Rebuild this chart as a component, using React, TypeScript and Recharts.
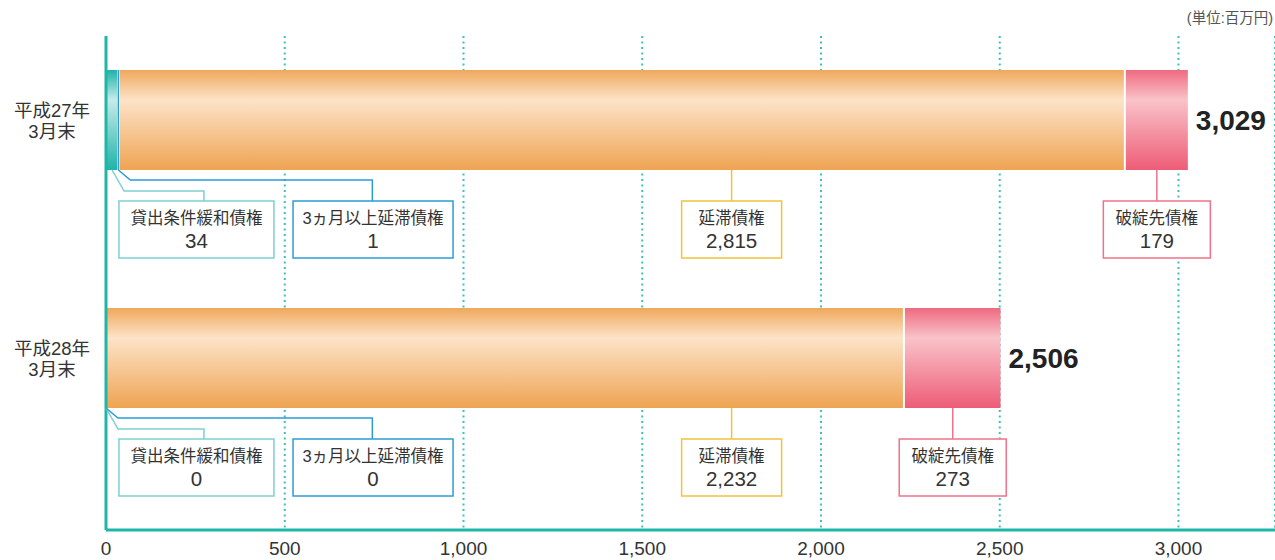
import { BarChart, Bar, XAxis, YAxis, CartesianGrid, LabelList } from 'recharts'

// 単位: 百万円
const periods = ['平成27年\n3月末', '平成28年\n3月末']
const relaxedLoans = [34, 0] // 貸出条件緩和債権
const overdue3m = [1, 0] // 3ヵ月以上延滞債権
const delinquent = [2815, 2232] // 延滞債権
const bankrupt = [179, 273] // 破綻先債権
const totals = [3029, 2506]
const xTicks = [0, 500, 1000, 1500, 2000, 2500, 3000]

const data = periods.map((period, i) => ({
  period,
  relaxed: relaxedLoans[i],
  overdue: overdue3m[i],
  delinquent: delinquent[i],
  bankrupt: bankrupt[i],
  total: totals[i],
}))

const TEAL = '#1fb5a7'
const FONT = '"Liberation Sans", "Noto Sans CJK JP", sans-serif'

// callout boxes under each bar; boxAt / lineAt are in 百万円 on the x scale
const callouts = [
  { key: 'relaxed', title: '貸出条件緩和債権', color: '#7dd0d2', boxAt: 253, lineAt: 274, boxWidth: 155, elbow: 21 },
  { key: 'overdue', title: '3ヵ月以上延滞債権', color: '#2b9cd8', boxAt: 747, lineAt: 745, boxWidth: 160, elbow: 10 },
  { key: 'delinquent', title: '延滞債権', color: '#f2c23e', boxAt: 1750, lineAt: 1750, boxWidth: 100 },
  { key: 'bankrupt', title: '破綻先債権', color: '#f0718a', boxWidth: 107 },
]

const fmt = (v: number) => v.toLocaleString('en-US')

const Segment = (props: any) => {
  const { x, y, width, height, fill } = props
  if (!width || width <= 0) return null
  return <rect x={x + 1} y={y} width={Math.max(width - 2, 0.5)} height={height} fill={fill} />
}

const ThinSegment = (props: any) => {
  const { x, y, width, height, fill } = props
  if (!width || width <= 0) return null
  return <rect x={x + width / 2 - 0.7} y={y} width={1.4} height={height} fill={fill} />
}

const PeriodTick = ({ x, y, payload }: any) => {
  const lines = String(payload.value).split('\n')
  return (
    <text x={x - 46} y={y} textAnchor="middle" fontSize={18.5} fill="#333">
      {lines.map((l, i) => (
        <tspan key={i} x={x - 46} dy={i === 0 ? -3 : 21}>
          {l}
        </tspan>
      ))}
    </text>
  )
}

const AmountTick = ({ x, payload }: any) => (
  <text x={x} y={555} textAnchor="middle" fontSize={19} fill="#333">
    {fmt(payload.value)}
  </text>
)

// drawn from the 延滞債権 segment: its width gives the px-per-unit of the x scale
const Callouts = (props: any) => {
  const vb = props.viewBox && props.viewBox.width != null ? props.viewBox : props
  const { x, y, width, height } = vb
  let i = typeof props.index === 'number' ? props.index : periods.indexOf(props.value)
  if (i < 0) i = periods.indexOf(props.value)
  const row = data[i]
  if (!row || !width) return null
  const k = width / row.delinquent
  const x0 = x - (row.relaxed + row.overdue) * k
  const sx = (v: number) => x0 + v * k
  const bottom = y + height
  const boxTop = bottom + 31
  const boxH = 57
  const starts: Record<string, number> = {
    relaxed: 0,
    overdue: row.relaxed,
    delinquent: row.relaxed + row.overdue,
    bankrupt: row.relaxed + row.overdue + row.delinquent,
  }
  const end = starts.bankrupt + row.bankrupt

  return (
    <g>
      {callouts.map((c) => {
        const value = (row as any)[c.key] as number
        const mid = sx(starts[c.key] + value / 2)
        const boxCx = c.boxAt != null ? sx(c.boxAt) : mid
        const lineX = c.lineAt != null ? sx(c.lineAt) : mid
        const pts = c.elbow
          ? `${mid},${bottom} ${mid + 12},${bottom + c.elbow} ${lineX},${bottom + c.elbow} ${lineX},${boxTop}`
          : `${lineX},${bottom} ${lineX},${boxTop}`
        return (
          <g key={c.key}>
            <polyline points={pts} fill="none" stroke={c.color} strokeWidth={1.5} />
            <rect
              x={boxCx - c.boxWidth / 2}
              y={boxTop}
              width={c.boxWidth}
              height={boxH}
              fill="#fff"
              stroke={c.color}
              strokeWidth={1.5}
            />
            <text x={boxCx} y={boxTop + 23} textAnchor="middle" fontSize={16.5} fill="#333">
              {c.title}
            </text>
            <text x={boxCx} y={boxTop + 47} textAnchor="middle" fontSize={20.5} fill="#333">
              {fmt(value)}
            </text>
          </g>
        )
      })}
      <text x={sx(end) + 7} y={y + height / 2 + 10} fontSize={28} fontWeight={700} fill="#222">
        {fmt(row.total)}
      </text>
    </g>
  )
}

export default function App() {
  return (
    <div style={{ position: 'relative', width: 1275, height: 560, fontFamily: FONT, background: '#fff' }}>
      <style>{'body{margin:0;overflow:hidden}'}</style>
      <div style={{ position: 'absolute', right: 2, top: 6, fontSize: 14.5, color: '#555' }}>(単位:百万円)</div>
      <BarChart
        width={1275}
        height={560}
        data={data}
        layout="vertical"
        barSize={100}
        margin={{ top: 36, right: 0, bottom: 0, left: 0 }}
      >
        <defs>
          <linearGradient id="gTeal" x1="0" y1="0" x2="0" y2="1">
            <stop offset="0" stopColor="#1fb3a8" />
            <stop offset="0.3" stopColor="#c6ebe8" />
            <stop offset="1" stopColor="#1fb3a8" />
          </linearGradient>
          <linearGradient id="gOrange" x1="0" y1="0" x2="0" y2="1">
            <stop offset="0" stopColor="#efa85c" />
            <stop offset="0.3" stopColor="#fde3c8" />
            <stop offset="1" stopColor="#eea452" />
          </linearGradient>
          <linearGradient id="gPink" x1="0" y1="0" x2="0" y2="1">
            <stop offset="0" stopColor="#ef6a80" />
            <stop offset="0.3" stopColor="#f9c3c9" />
            <stop offset="1" stopColor="#ee5c77" />
          </linearGradient>
        </defs>
        <CartesianGrid horizontal={false} stroke="#3cc1b8" strokeWidth={2} strokeDasharray="2 3.5" />
        <XAxis
          type="number"
          domain={[0, 3270]}
          ticks={xTicks}
          interval={0}
          axisLine={{ stroke: TEAL, strokeWidth: 3 }}
          tickLine={false}
          height={30}
          tick={<AmountTick />}
        />
        <YAxis
          type="category"
          dataKey="period"
          width={106}
          axisLine={{ stroke: TEAL, strokeWidth: 3 }}
          tickLine={false}
          tickSize={6}
          tickMargin={2}
          padding={{ top: -35, bottom: 53 }}
          tick={<PeriodTick />}
        />
        <Bar dataKey="relaxed" stackId="a" fill="url(#gTeal)" shape={<Segment />} isAnimationActive={false} />
        <Bar dataKey="overdue" stackId="a" fill="#2b9cd8" shape={<ThinSegment />} isAnimationActive={false} />
        <Bar dataKey="delinquent" stackId="a" fill="url(#gOrange)" shape={<Segment />} isAnimationActive={false}>
          <LabelList dataKey="period" content={<Callouts />} />
        </Bar>
        <Bar dataKey="bankrupt" stackId="a" fill="url(#gPink)" shape={<Segment />} isAnimationActive={false} />
      </BarChart>
    </div>
  )
}
